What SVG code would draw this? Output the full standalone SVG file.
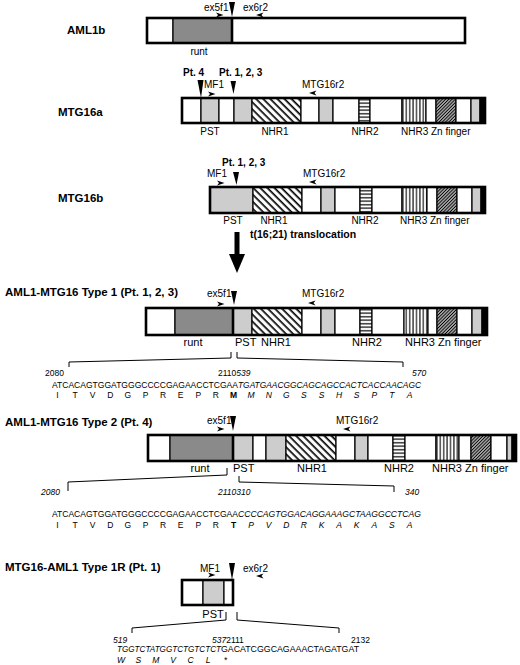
<svg xmlns="http://www.w3.org/2000/svg" width="520" height="665" viewBox="0 0 520 665">
<style>
text{font-family:"Liberation Sans",Arial,Helvetica,sans-serif;fill:#000}
.t{font-size:11.5px;font-weight:bold}
.pt{font-size:10px;font-weight:bold}
.l{font-size:10px}
.l11{font-size:11px}
.sq{font-size:8.5px}
.i{font-style:italic}
.b{font-weight:bold}
.m{text-anchor:middle}
.w,.g,.rg,.bk,.h1,.h2,.h3,.zn{stroke:#000;stroke-width:1.2}
.w{fill:#fff}
.g{fill:#cdcdcd}
.rg{fill:#8a8a8a}
.bk{fill:#000}
.h1{fill:url(#p1)}
.h2{fill:url(#p2)}
.h3{fill:url(#p3)}
.zn{fill:url(#p4)}
.ob{fill:none;stroke:#000;stroke-width:2.6}
.tk{stroke:#000;stroke-width:2.6}
.br{fill:none;stroke:#000;stroke-width:1}
.mk{fill:#000}
</style>
<defs>
<pattern id="p1" width="5" height="5" patternUnits="userSpaceOnUse" patternTransform="rotate(-45)"><rect width="5" height="5" fill="#fff"/><line x1="1.2" y1="0" x2="1.2" y2="5" stroke="#000" stroke-width="1.7"/></pattern>
<pattern id="p2" width="6" height="3.5" patternUnits="userSpaceOnUse"><rect width="6" height="3.5" fill="#fff"/><line x1="0" y1="1.7" x2="6" y2="1.7" stroke="#000" stroke-width="1.2"/></pattern>
<pattern id="p3" width="3.4" height="6" patternUnits="userSpaceOnUse"><rect width="3.4" height="6" fill="#fff"/><line x1="1.7" y1="0" x2="1.7" y2="6" stroke="#000" stroke-width="1.1"/></pattern>
<pattern id="p4" width="2.3" height="2.3" patternUnits="userSpaceOnUse" patternTransform="rotate(45)"><rect width="2.3" height="2.3" fill="#fff"/><line x1="1.15" y1="0" x2="1.15" y2="2.3" stroke="#000" stroke-width="1.35"/></pattern>
<path id="pr" d="M0,-2.4 L7.5,0 L0,2.4 L2,0 Z"/>
<path id="pl" d="M0,0 L7.5,-2.4 L5.5,0 L7.5,2.4 Z"/>
</defs>

<g id="n-aml1b">
<text class="t" x="67" y="34">AML1b</text>
<text class="l" x="204" y="11">ex5f1</text>
<text class="l" x="243" y="11">ex6r2</text>
<polygon class="mk" points="229,2 235,2 232,17"/>
<use href="#pr" x="216" y="15"/>
<use href="#pl" x="256" y="15"/>
<rect class="w" x="147" y="18" width="26" height="25"/>
<rect class="rg" x="173" y="18" width="59" height="25"/>
<rect class="w" x="232" y="18" width="233" height="25"/>
<line class="tk" x1="232" y1="18" x2="232" y2="43"/>
<rect class="ob" x="147" y="18" width="318" height="25"/>
<text class="l m" x="199" y="55">runt</text>
</g>

<g id="n-mtg16a">
<text class="t" x="58" y="116">MTG16a</text>
<text class="pt" x="183" y="76">Pt. 4</text>
<text class="pt" x="219" y="76">Pt. 1, 2, 3</text>
<polygon class="mk" points="197.5,80 203.5,80 201,98"/>
<polygon class="mk" points="230.5,81 236,81 233.5,94"/>
<text class="l" x="204" y="88">MF1</text>
<use href="#pr" x="208" y="94"/>
<text class="l" x="302" y="88">MTG16r2</text>
<use href="#pl" x="309" y="93"/>
<rect class="w" x="182" y="98" width="19" height="25"/>
<rect class="g" x="201" y="98" width="18" height="25"/>
<rect class="w" x="219" y="98" width="15" height="25"/>
<rect class="g" x="234" y="98" width="18" height="25"/>
<rect class="h1" x="252" y="98" width="49" height="25"/>
<rect class="w" x="301" y="98" width="18" height="25"/>
<rect class="g" x="319" y="98" width="14" height="25"/>
<rect class="w" x="333" y="98" width="26" height="25"/>
<rect class="h2" x="359" y="98" width="11" height="25"/>
<rect class="w" x="370" y="98" width="32" height="25"/>
<rect class="h3" x="402" y="98" width="24" height="25"/>
<rect class="w" x="426" y="98" width="10" height="25"/>
<rect class="zn" x="436" y="98" width="20" height="25"/>
<rect class="w" x="456" y="98" width="15" height="25"/>
<rect class="g" x="471" y="98" width="9" height="25"/>
<rect class="bk" x="480" y="98" width="5" height="25"/>
<rect class="ob" x="182" y="98" width="303" height="25"/>
<text class="l m" x="210" y="135">PST</text>
<text class="l m" x="275" y="135">NHR1</text>
<text class="l m" x="365" y="135">NHR2</text>
<text class="l" x="401" y="135">NHR3 Zn finger</text>
</g>

<g id="n-mtg16b">
<text class="t" x="58" y="202">MTG16b</text>
<text class="pt" x="222" y="166">Pt. 1, 2, 3</text>
<polygon class="mk" points="233,172 239,172 236.5,185"/>
<text class="l" x="207" y="177">MF1</text>
<use href="#pr" x="217" y="183"/>
<text class="l" x="303" y="177">MTG16r2</text>
<use href="#pl" x="309" y="182"/>
<rect class="g" x="210" y="187" width="43" height="26"/>
<rect class="h1" x="253" y="187" width="49" height="26"/>
<rect class="w" x="302" y="187" width="19" height="26"/>
<rect class="g" x="321" y="187" width="14" height="26"/>
<rect class="w" x="335" y="187" width="25" height="26"/>
<rect class="h2" x="360" y="187" width="12" height="26"/>
<rect class="w" x="372" y="187" width="30" height="26"/>
<rect class="h3" x="402" y="187" width="25" height="26"/>
<rect class="w" x="427" y="187" width="10" height="26"/>
<rect class="zn" x="437" y="187" width="20" height="26"/>
<rect class="w" x="457" y="187" width="15" height="26"/>
<rect class="g" x="472" y="187" width="9" height="26"/>
<rect class="bk" x="481" y="187" width="4" height="26"/>
<rect class="ob" x="210" y="187" width="275" height="26"/>
<text class="l m" x="233" y="224">PST</text>
<text class="l m" x="274" y="224">NHR1</text>
<text class="l m" x="365" y="224">NHR2</text>
<text class="l" x="400" y="224">NHR3 Zn finger</text>
</g>

<g id="n-translocation">
<text class="pt" x="250" y="238" style="font-size:10.5px">t(16;21) translocation</text>
</g>

<g id="n-type1">
<text class="t" x="5" y="296">AML1-MTG16 Type 1 (Pt. 1, 2, 3)</text>
<text class="l" x="207" y="297">ex5f1</text>
<polygon class="mk" points="231,291 237,291 234,305"/>
<use href="#pr" x="217" y="304"/>
<text class="l" x="302" y="297">MTG16r2</text>
<use href="#pl" x="308" y="303"/>
<rect class="w" x="146" y="308" width="29" height="27"/>
<rect class="rg" x="175" y="308" width="58" height="27"/>
<rect class="g" x="233" y="308" width="19" height="27"/>
<rect class="h1" x="252" y="308" width="50" height="27"/>
<rect class="w" x="302" y="308" width="19" height="27"/>
<rect class="g" x="321" y="308" width="14" height="27"/>
<rect class="w" x="335" y="308" width="25" height="27"/>
<rect class="h2" x="360" y="308" width="12" height="27"/>
<rect class="w" x="372" y="308" width="32" height="27"/>
<rect class="h3" x="404" y="308" width="24" height="27"/>
<rect class="w" x="428" y="308" width="9" height="27"/>
<rect class="zn" x="437" y="308" width="20" height="27"/>
<rect class="w" x="457" y="308" width="15" height="27"/>
<rect class="g" x="472" y="308" width="10" height="27"/>
<rect class="bk" x="482" y="308" width="5" height="27"/>
<line class="tk" x1="233" y1="308" x2="233" y2="335"/>
<rect class="ob" x="146" y="308" width="341" height="27"/>
<text class="l11 m" x="193" y="346">runt</text>
<text class="l11" x="235" y="346">PST</text>
<text class="l11 m" x="276" y="346">NHR1</text>
<text class="l11 m" x="367" y="346">NHR2</text>
<text class="l11" x="405" y="346">NHR3 Zn finger</text>
</g>

<g id="n-seq1">
<text class="sq" x="45" y="376">2080</text>
<text class="sq" x="218" y="376">2110<tspan class="i">539</tspan></text>
<text class="sq i" x="412" y="376">570</text>
<text class="sq" x="52" y="388" textLength="186" lengthAdjust="spacingAndGlyphs">ATCACAGTGGATGGGCCCCGAGAACCTCGAA</text>
<text class="sq i" x="238" y="388" textLength="183" lengthAdjust="spacingAndGlyphs">TGATGAACGGCAGCAGCCACTCACCAACAGC</text>
<text class="sq m" y="398"><tspan x="57.5 75.1 92.7 110.3 127.9 145.5 163.1 180.7 198.3 215.9">ITVDGPREPR</tspan><tspan class="b" x="233.5">M</tspan><tspan class="i" x="251.1 268.7 286.3 303.9 321.5 339.1 356.7 374.3 391.9 409.5">MNGSSHSPTA</tspan></text>
</g>

<g id="n-type2">
<text class="t" x="5" y="426">AML1-MTG16 Type 2 (Pt. 4)</text>
<text class="l" x="207" y="424">ex5f1</text>
<polygon class="mk" points="230,416 236,416 233,431"/>
<use href="#pr" x="217" y="429"/>
<text class="l" x="336" y="424">MTG16r2</text>
<use href="#pl" x="343" y="429"/>
<rect class="w" x="148" y="435" width="22" height="26"/>
<rect class="rg" x="170" y="435" width="63" height="26"/>
<rect class="g" x="233" y="435" width="20" height="26"/>
<rect class="w" x="253" y="435" width="13" height="26"/>
<rect class="g" x="266" y="435" width="20" height="26"/>
<rect class="h1" x="286" y="435" width="50" height="26"/>
<rect class="w" x="336" y="435" width="19" height="26"/>
<rect class="g" x="355" y="435" width="13" height="26"/>
<rect class="w" x="368" y="435" width="25" height="26"/>
<rect class="h2" x="393" y="435" width="12" height="26"/>
<rect class="w" x="405" y="435" width="31" height="26"/>
<rect class="h3" x="436" y="435" width="23" height="26"/>
<rect class="w" x="459" y="435" width="12" height="26"/>
<rect class="zn" x="471" y="435" width="20" height="26"/>
<rect class="w" x="491" y="435" width="16" height="26"/>
<rect class="g" x="507" y="435" width="5" height="26"/>
<rect class="bk" x="512" y="435" width="4" height="26"/>
<line class="tk" x1="233" y1="435" x2="233" y2="461"/>
<rect class="ob" x="148" y="435" width="368" height="26"/>
<text class="l11 m" x="200" y="472">runt</text>
<text class="l11" x="233" y="472">PST</text>
<text class="l11 m" x="312" y="472">NHR1</text>
<text class="l11 m" x="399" y="472">NHR2</text>
<text class="l11" x="432" y="472">NHR3 Zn finger</text>
</g>

<g id="n-seq2">
<text class="sq i" x="41" y="495">2080</text>
<text class="sq i" x="218" y="495">2110310</text>
<text class="sq i" x="405" y="495">340</text>
<text class="sq" x="52" y="517" textLength="186" lengthAdjust="spacingAndGlyphs">ATCACAGTGGATGGGCCCCGAGAACCTCGAA</text>
<text class="sq i" x="238" y="517" textLength="183" lengthAdjust="spacingAndGlyphs">CCCCAGTGGACAGGAAAGCTAAGGCCTCAG</text>
<text class="sq m" y="528"><tspan x="57.5 75.1 92.7 110.3 127.9 145.5 163.1 180.7 198.3 215.9">ITVDGPREPR</tspan><tspan class="b" x="233.5">T</tspan><tspan class="i" x="251.1 268.7 286.3 303.9 321.5 339.1 356.7 374.3 391.9 409.5">PVDRKAKASA</tspan></text>
</g>

<g id="n-type1r">
<text class="t" x="5" y="571">MTG16-AML1 Type 1R (Pt. 1)</text>
<text class="l" x="200" y="572">MF1</text>
<text class="l" x="243" y="572">ex6r2</text>
<polygon class="mk" points="229,563 235,563 232,580"/>
<use href="#pr" x="208" y="575"/>
<use href="#pl" x="256" y="576"/>
<rect class="w" x="182" y="580" width="21" height="25"/>
<rect class="g" x="203" y="580" width="21" height="25"/>
<rect class="w" x="224" y="580" width="9" height="25"/>
<rect class="ob" x="182" y="580" width="51" height="25"/>
<text class="l11 m" x="213" y="618">PST</text>
</g>

<g id="n-seq3">
<text class="sq i" x="113" y="643">519</text>
<text class="sq" x="212" y="643"><tspan class="i">537</tspan>2111</text>
<text class="sq" x="351" y="643">2132</text>
<text class="sq i" x="117" y="652" textLength="104" lengthAdjust="spacingAndGlyphs">TGGTCTATGGTCTGTCTCT</text>
<text class="sq" x="221" y="652" textLength="138" lengthAdjust="spacingAndGlyphs">GACATCGGCAGAAACTAGATGAT</text>
<text class="sq i m" y="663" x="121 138.4 155.8 173.2 190.6 208 225.4">WSMVCL*</text>
</g>

<g id="connectors">
<rect x="234.5" y="232" width="5" height="24" fill="#000" stroke="none"/>
<polygon class="mk" points="229,254 245,254 237,273"/>
<path class="br" d="M231,352 V358 L69,362 V367"/>
<path class="br" d="M237,352 V358 L403,362 V367"/>
<path class="br" d="M227,468 V475 L68,482 V491"/>
<path class="br" d="M239,476 V482 L394,486 V492"/>
<path class="br" d="M226,612 V620 L132,628 V633"/>
<path class="br" d="M237,612 V620 L339,628 V633"/>
</g>
</svg>
